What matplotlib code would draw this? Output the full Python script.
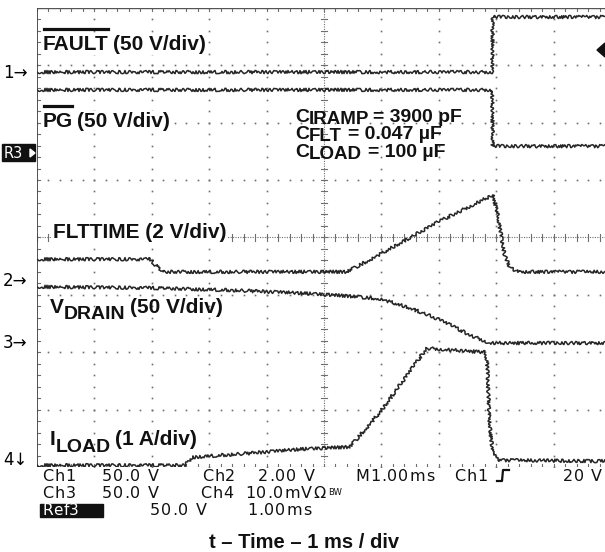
import numpy as np
import matplotlib.pyplot as plt
from matplotlib.lines import Line2D
from matplotlib.patches import Rectangle, Polygon

W, H = 605, 552
X0, Y0, DIV = 37, 467, 57.4   # bottom-left graticule corner and div size (px)

# traces: time in div (1 ms/div), level in div above the bottom graticule line
fault_t = [0.0, 7.93, 7.94, 10.0]
fault_y = [6.88, 6.88, 7.84, 7.84]

pg_t = [0.0, 7.93, 7.94, 10.0]
pg_y = [6.57, 6.57, 5.59, 5.59]

flt_t = [0.0, 1.97, 2.18, 5.40, 5.98, 6.99, 7.94, 8.01, 8.10, 8.15, 8.24, 8.40, 10.0]
flt_y = [3.62, 3.62, 3.40, 3.40, 3.71, 4.27, 4.74, 4.48, 3.95, 3.69, 3.47, 3.40, 3.40]

vdrain_t = [0.0, 1.97, 3.41, 4.58, 5.40, 5.98, 6.50, 7.03, 7.54, 7.89, 10.0]
vdrain_y = [3.14, 3.12, 3.08, 3.03, 2.98, 2.93, 2.77, 2.56, 2.30, 2.16, 2.16]

iload_t = [0.0, 2.58, 2.70, 3.71, 4.58, 5.45, 5.98, 6.79, 7.80, 7.84, 7.89, 7.94, 8.03, 10.0]
iload_y = [0.03, 0.03, 0.17, 0.24, 0.31, 0.35, 0.96, 2.07, 2.00, 1.86, 0.70, 0.24, 0.12, 0.10]

traces = [(fault_t, fault_y), (pg_t, pg_y), (flt_t, flt_y),
          (vdrain_t, vdrain_y), (iload_t, iload_y)]

INK = '#262626'
GRID = '#6e6e6e'


def fx(x):
    return x / W


def fy(y):
    return 1 - y / H


fig = plt.figure(figsize=(W / 100, H / 100), dpi=100)
ax = fig.add_axes([fx(X0), fy(Y0), 10 * DIV / W, 8 * DIV / H])
ax.set_xlim(0, 10)
ax.set_ylim(0, 8)
ax.axis('off')
renderer = fig.canvas.get_renderer()

# graticule: dotted div lines, dense centre lines with 1/5 div ticks
sub = np.arange(0, 51) / 5
for i in range(1, 10):
    if i != 5:
        ax.plot(np.full(41, i), sub[:41], ls='none', marker='s', ms=1.2, mew=0, color=GRID)
for j in range(1, 8):
    if j != 4:
        ax.plot(sub, np.full(51, j), ls='none', marker='s', ms=1.2, mew=0, color=GRID)
ax.plot([5, 5], [0, 8], ls=(0, (1, 1.2)), lw=0.8, color=GRID)
ax.plot([0, 10], [4, 4], ls=(0, (1, 1.2)), lw=0.8, color=GRID)
tk = 0.055
for v in sub:
    ax.plot([v, v], [4 - tk, 4 + tk], lw=0.8, color=GRID)
    ax.plot([v, v], [8, 8 - tk], lw=0.8, color=GRID)
    ax.plot([v, v], [0, tk], lw=0.8, color=GRID)
for v in sub[:41]:
    ax.plot([5 - tk, 5 + tk], [v, v], lw=0.8, color=GRID)
    ax.plot([0, tk], [v, v], lw=0.8, color=GRID)
ax.plot([0, 10], [8, 8], lw=1.0, color='#555555')
ax.plot([0, 10], [0, 0], ls=(0, (1, 1.2)), lw=0.8, color=GRID)
ax.plot([0, 0], [0, 8], lw=1.3, color='#444444')

for t, y in traces:
    ln, = ax.plot(t, y, color=INK, lw=1.1, zorder=5)
    ln.set_sketch_params(scale=1.6, length=2.5, randomness=5)

box = dict(facecolor='white', edgecolor='none', pad=1)


def put(x, y, s, size=15, weight='bold', **kw):
    t = fig.text(fx(x), fy(y), s, fontsize=size, weight=weight, va='baseline',
                 family='Liberation Sans', color='#111111', **kw)
    return t, t.get_window_extent(renderer)


def overline(bb, y):
    fig.add_artist(Line2D([fx(bb.x0 + 1), fx(bb.x1 - 1)], [fy(y), fy(y)],
                          lw=2.3, color='#111111', transform=fig.transFigure))


def sub_label(x, y, main, low, rest, size=15, lsize=14, drop=2, gap=4):
    _, bb = put(x, y, main, size)
    _, bb = put(bb.x1, y + drop, low, lsize)
    put(bb.x1 + gap, y, rest, size)


_, bb = put(43, 50, 'FAULT', bbox=box)
overline(bb, 28.5)
put(bb.x1 + 4, 50, '(50 V/div)', bbox=box)
_, bb = put(43, 127, 'PG', bbox=box)
overline(bb, 106)
put(bb.x1 + 4, 127, '(50 V/div)', bbox=box)

put(53, 238, 'FLTTIME (2 V/div)', bbox=box)
sub_label(50, 313, 'V', 'DRAIN', '(50 V/div)', drop=6)
sub_label(50, 445, 'I', 'LOAD', '(1 A/div)', drop=7)

sub_label(295, 122, 'C', 'IRAMP', '= 3900 pF', size=14, lsize=13.5, gap=4)
sub_label(295, 139, 'C', 'FLT', '= 0.047 µF', size=14, lsize=13.5, gap=6)
sub_label(295, 157, 'C', 'LOAD', '= 100 µF', size=14, lsize=13.5, gap=6)

# channel markers on the left edge
for lab, y in [('1→', 73), ('2→', 281), ('3→', 343), ('4↓', 460)]:
    fig.text(fx(3), fy(y), lab, fontsize=12, va='center', family='DejaVu Sans')
fig.add_artist(Rectangle((fx(2), fy(161)), 33 / W, 17 / H, color='#111111',
                         transform=fig.transFigure))
fig.text(fx(4), fy(153), 'R3', fontsize=10.5, va='center', color='white', family='DejaVu Sans')
fig.add_artist(Polygon([(fx(30), fy(149)), (fx(30), fy(157)), (fx(35), fy(153))],
                       color='white', transform=fig.transFigure))
# trigger level marker on the right edge
fig.add_artist(Polygon([(fx(597), fy(50)), (fx(605), fy(43)), (fx(605), fy(57))],
                       color='#111111', transform=fig.transFigure))


def spaced(x, y, s, size=11.5, track=1.0, color='#111111'):
    for ch in s:
        if ch == ' ':
            x += 0.32 * size * 100 / 72 + track
            continue
        t = fig.text(fx(x), fy(y), ch, fontsize=size, va='baseline',
                     family='DejaVu Sans', color=color)
        x += t.get_window_extent(renderer).width + track
    return x


status = [
    (481, [('Ch1', 42), ('50.0 V', 102), ('Ch2', 202), ('2.00 V', 258),
           ('M1.00ms', 355), ('Ch1', 454), ('20 V', 563)]),
    (498, [('Ch3', 42), ('50.0 V', 102), ('Ch4', 200), ('10.0mVΩ', 245)]),
    (515, [('50.0 V', 150), ('1.00ms', 247)]),
]
for y, items in status:
    for s, x in items:
        xe = spaced(x, y, s)
        if s.endswith('Ω'):
            fig.text(fx(xe + 2), fy(y - 3), 'BW', fontsize=6, va='baseline',
                     family='DejaVu Sans', color='#111111')
fig.add_artist(Rectangle((fx(40), fy(517)), 63 / W, 13 / H, color='#111111',
                         transform=fig.transFigure))
spaced(42, 515, 'Ref3', size=11, track=0.5, color='white')
fig.add_artist(Line2D([fx(497), fx(502), fx(503), fx(509)],
                      [fy(481), fy(481), fy(470), fy(470)], lw=1.6,
                      color='#111111', transform=fig.transFigure))

fig.text(fx(304), fy(548), 't – Time – 1 ms / div', fontsize=14.5, weight='bold',
         ha='center', va='baseline', family='Liberation Sans', color='#111111')

fig.savefig('out.png', dpi=100)
